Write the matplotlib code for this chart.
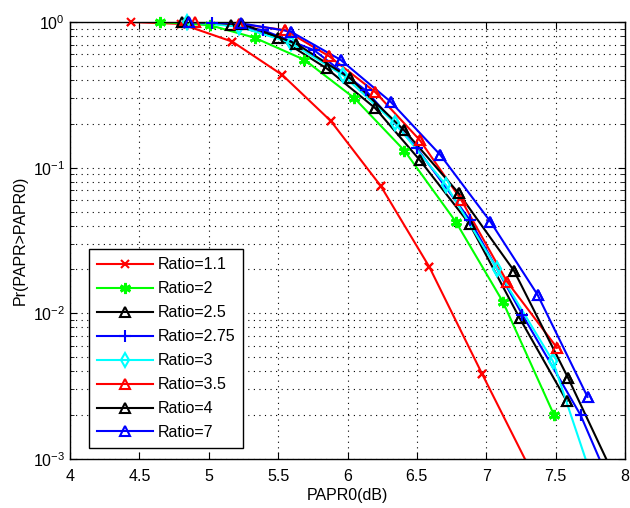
import matplotlib
matplotlib.use("Agg")
import matplotlib.pyplot as plt
from matplotlib.ticker import FixedLocator, LogLocator, NullFormatter

plt.rcParams['font.family'] = ['Liberation Sans', 'DejaVu Sans']
plt.rcParams['mathtext.default'] = 'regular'

# ---- data (PAPR0 in dB, CCDF) ----
labels = ['Ratio=1.1', 'Ratio=2', 'Ratio=2.5', 'Ratio=2.75', 'Ratio=3',
          'Ratio=3.5', 'Ratio=4', 'Ratio=7']

x_r11 = [4.44, 4.80, 5.17, 5.53, 5.88, 6.24, 6.59, 6.97, 7.33]
y_r11 = [1.0, 0.97, 0.733, 0.433, 0.209, 0.0748, 0.0208, 0.00384, 0.0008]
m_r11 = 8  # number of marked points

x_r2 = [4.65, 5.01, 5.33, 5.69, 6.05, 6.41, 6.78, 7.12, 7.49]
y_r2 = [1.0, 0.95, 0.78, 0.55, 0.30, 0.131, 0.0426, 0.0120, 0.00199]
m_r2 = 9

x_r25 = [4.81, 5.16, 5.50, 5.85, 6.20, 6.52, 6.88, 7.24, 7.58]
y_r25 = [1.0, 0.96, 0.78, 0.48, 0.256, 0.113, 0.041, 0.0093, 0.0025]
m_r25 = 9

x_r275 = [5.02, 5.39, 5.76, 6.13, 6.50, 6.88, 7.26, 7.68, 7.86]
y_r275 = [0.98, 0.88, 0.64, 0.34, 0.136, 0.044, 0.0098, 0.0020, 0.0008]
m_r275 = 8

x_r3 = [4.84, 5.22, 5.59, 5.97, 6.34, 6.71, 7.08, 7.48, 7.75]
y_r3 = [1.0, 0.93, 0.72, 0.43, 0.203, 0.076, 0.020, 0.0047, 0.0008]
m_r3 = 8

x_r35 = [4.90, 5.22, 5.55, 5.87, 6.20, 6.52, 6.82, 7.15, 7.51]
y_r35 = [1.0, 0.97, 0.88, 0.58, 0.33, 0.155, 0.060, 0.0165, 0.0058]
m_r35 = 9

x_r4 = [4.85, 5.24, 5.63, 6.02, 6.41, 6.80, 7.20, 7.59, 7.90]
y_r4 = [1.0, 0.97, 0.71, 0.41, 0.18, 0.067, 0.0196, 0.0036, 0.00085]
m_r4 = 8

x_r7 = [4.86, 5.23, 5.59, 5.95, 6.31, 6.67, 7.03, 7.37, 7.73]
y_r7 = [1.0, 0.98, 0.86, 0.55, 0.284, 0.122, 0.0426, 0.0134, 0.00267]
m_r7 = 9

xticks = [4, 4.5, 5, 5.5, 6, 6.5, 7, 7.5, 8]
xticklabels = ['4', '4.5', '5', '5.5', '6', '6.5', '7', '7.5', '8']

series = [
    (x_r11, y_r11, m_r11, dict(color='#ff0000', marker='x', ms=6, mew=1.5, mfc='none')),
    (x_r2, y_r2, m_r2, dict(color='#00ff00', marker=(6, 2, 0), ms=8, mew=2.0, mfc='none')),
    (x_r25, y_r25, m_r25, dict(color='#000000', marker='^', ms=7, mew=1.5, mfc='none')),
    (x_r275, y_r275, m_r275, dict(color='#0000ff', marker='+', ms=9, mew=1.5, mfc='none')),
    (x_r3, y_r3, m_r3, dict(color='#00ffff', marker='d', ms=7, mew=1.5, mfc='none')),
    (x_r35, y_r35, m_r35, dict(color='#ff0000', marker='^', ms=7, mew=1.5, mfc='none')),
    (x_r4, y_r4, m_r4, dict(color='#000000', marker='^', ms=7, mew=1.5, mfc='none')),
    (x_r7, y_r7, m_r7, dict(color='#0000ff', marker='^', ms=7, mew=1.5, mfc='none')),
]

fig = plt.figure(figsize=(6.3, 5.08), dpi=100)
ax = fig.add_axes([70/630, 49/508, 555/630, 437/508])

handles = []
for (xs, ys, nm, st), lab in zip(series, labels):
    h, = ax.plot(xs, ys, lw=1.5, markevery=list(range(nm)), label=lab, **st)
    handles.append(h)
    ax.plot(xs[:nm], ys[:nm], ls='none', clip_on=False, zorder=3, **st)

ax.set_yscale('log')
ax.set_xlim(4, 8)
ax.set_ylim(1e-3, 1)
ax.xaxis.set_major_locator(FixedLocator(xticks))
ax.set_xticklabels(xticklabels)
ax.yaxis.set_major_locator(LogLocator(base=10, numticks=10))
ax.yaxis.set_minor_locator(LogLocator(base=10, subs=range(2, 10), numticks=20))
ax.yaxis.set_minor_formatter(NullFormatter())

ax.tick_params(which='both', direction='in', top=True, right=True, labelsize=11.5, colors='black')
ax.tick_params(which='major', length=5)
ax.tick_params(which='minor', length=3)
ax.tick_params(axis='x', pad=7)

gstyle = dict(color='black', linestyle=(0, (1, 4)), linewidth=0.8)
ax.grid(True, which='major', axis='both', **gstyle)
ax.grid(True, which='minor', axis='y', **gstyle)
for s in ax.spines.values():
    s.set_linewidth(1.0)
    s.set_color('black')

ax.set_xlabel('PAPR0(dB)', fontsize=11.5, labelpad=3)
ax.set_ylabel('Pr(PAPR>PAPR0)', fontsize=11.5, labelpad=4)

leg = ax.legend(handles=handles, loc='lower left', bbox_to_anchor=(0.034, 0.025),
                fontsize=11.5, frameon=True, fancybox=False, framealpha=1,
                edgecolor='black', handlelength=3.5, handletextpad=0.3,
                labelspacing=0.56, borderpad=0.5, borderaxespad=0)
leg.get_frame().set_linewidth(1.0)

fig.savefig('out.png', dpi=100)
